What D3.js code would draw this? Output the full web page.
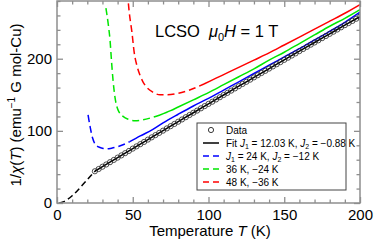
<!DOCTYPE html>
<html><head><meta charset="utf-8">
<script src="https://cdn.jsdelivr.net/npm/d3@7"></script>
<style>
html,body{margin:0;padding:0;background:#fff;}
svg{display:block;font-family:"Liberation Sans",Arial,Helvetica,sans-serif;}
</style></head>
<body><svg id="c" width="374" height="240"></svg>
<script>
// ---------- data ----------
const xTicksMajor = [0, 50, 100, 150, 200];
const yTicksMajor = [0, 100, 200];

const dataT = d3.range(25, 200.01, 2.5);
const dataV = [44.0,47.1,50.3,53.4,56.6,59.7,62.9,66.0,69.1,72.2,75.4,78.5,81.6,84.7,87.9,91.0,94.1,97.2,100.3,103.4,106.5,109.6,112.7,115.8,118.9,122.0,125.1,128.1,131.2,134.3,137.4,140.4,143.5,146.6,149.7,152.7,155.8,158.8,161.9,165.0,168.0,171.0,174.1,177.1,180.2,183.2,186.3,189.3,192.3,195.3,198.4,201.4,204.4,207.4,210.5,213.5,216.5,219.5,222.5,225.5,228.5,231.5,234.5,237.5,240.5,243.5,246.5,249.4,252.4,255.4,258.4];

const fitDashT = [1.5, 4, 7, 10, 13, 16, 19, 22, 25];
const fitDashV = [0, 1.5, 5, 10, 16, 23, 30, 37, 44];
const fitT = [25, 30, 40, 50, 60, 70, 80, 90, 100, 110, 120, 130, 140, 150, 160, 170, 180, 190, 200];
const fitV = [44.0, 50.3, 62.9, 75.4, 87.9, 100.3, 112.7, 125.1, 137.4, 149.7, 161.9, 174.1, 186.3, 198.4, 210.5, 222.5, 234.5, 246.5, 258.4];

const blueDashT = [20.5, 22, 23.5, 25, 27, 30, 33, 36, 40, 44, 48];
const blueDashV = [122, 104, 90, 82, 78, 76, 75, 76, 78, 81, 85];
const blueT = [48, 55, 63, 70, 80, 90, 100, 110, 120, 130, 140, 150, 160, 170, 180, 190, 200];
const blueV = [85, 93, 101.6, 111, 123, 134.5, 145, 156.5, 168, 179.5, 191, 202.5, 214, 226, 238, 250.5, 264.5];

const greenDashT = [32.3, 34, 35, 36, 37, 38.3, 39.6, 41, 43.6, 47, 51.5, 56, 62, 68];
const greenDashV = [270, 245, 226, 196, 170, 146, 133, 126, 120, 116, 114, 115, 118, 122];
const greenT = [68, 75, 80, 90, 100, 110, 120, 130, 140, 150, 160, 170, 180, 190, 200];
const greenV = [122, 128, 133, 143, 153, 164, 175, 186, 198, 209, 221, 233, 245, 256, 268];

const redDashT = [46.5, 47.5, 49.5, 51, 52.8, 55, 57, 59, 63, 68, 72.5, 80, 88, 97];
const redDashV = [292, 268, 236, 208, 190, 176, 167, 161, 154, 150, 150, 152, 157, 165];
const redT = [97, 105, 113, 121, 130, 140, 150, 160, 170, 180, 190, 200];
const redV = [165, 173, 181, 189, 198, 208, 219, 230, 241, 252, 263, 275];

const legendLabels = ["Data", "Fit", "J1", "36 K, \u221224 K", "48 K, \u221236 K"];

// ---------- layout ----------
const W = 374, H = 240;
const m = {l: 57, r: 14, t: 1, b: 37};
const svg = d3.select("#c");
const x = d3.scaleLinear().domain([0, 200]).range([m.l, W - m.r]);
const y = d3.scaleLinear().domain([0, 280]).range([H - m.b, m.t]);
const frameCol = "#8e8e8e";

svg.append("defs").append("clipPath").attr("id", "clip")
  .append("rect").attr("x", m.l).attr("y", m.t).attr("width", W - m.l - m.r).attr("height", H - m.t - m.b);

const plot = svg.append("g").attr("clip-path", "url(#clip)");
const line = d3.line().x(d => x(d[0])).y(d => y(d[1])).curve(d3.curveMonotoneX);
const zipper = (a, b) => a.map((t, i) => [t, b[i]]);

function draw(T, V, color, dash) {
  plot.append("path").datum(zipper(T, V)).attr("d", line)
    .attr("fill", "none").attr("stroke", color).attr("stroke-width", 1.5)
    .attr("stroke-dasharray", dash || null);
}
const dashPat = "7,4";
draw(redDashT, redDashV, "#ff0000", dashPat);
draw(redT, redV, "#ff0000");
draw(greenDashT, greenDashV, "#00e600", dashPat);
draw(greenT, greenV, "#00e600");
draw(blueDashT, blueDashV, "#0000ff", dashPat);
draw(blueT, blueV, "#0000ff");
draw(fitDashT, fitDashV, "#000", "6,3.5");
draw(fitT, fitV, "#000");

plot.append("g").selectAll("circle").data(zipper(dataT, dataV)).join("circle")
  .attr("cx", d => x(d[0])).attr("cy", d => y(d[1])).attr("r", 2.6)
  .attr("fill", "none").attr("stroke", "#222").attr("stroke-width", 0.8);

// ---------- axes ----------
function styleAxis(g) {
  g.select(".domain").remove();
  g.selectAll(".tick line").attr("stroke", frameCol).attr("stroke-width", 1.3);
  g.selectAll(".tick text").attr("fill", "#000").attr("font-size", 15);
}
const xMinor = d3.range(0, 201, 10).filter(v => v % 50);
const yMinor = d3.range(0, 281, 20).filter(v => v % 100);

// bottom
svg.append("g").attr("transform", `translate(0,${H - m.b})`)
  .call(d3.axisBottom(x).tickValues(xTicksMajor).tickSizeInner(-6).tickSizeOuter(0).tickPadding(6).tickFormat(d3.format("d")))
  .call(styleAxis);
svg.append("g").attr("transform", `translate(0,${H - m.b})`)
  .call(d3.axisBottom(x).tickValues(xMinor).tickSizeInner(-3.5).tickSizeOuter(0).tickFormat(""))
  .call(styleAxis);
// top
svg.append("g").attr("transform", `translate(0,${m.t})`)
  .call(d3.axisTop(x).tickValues(xTicksMajor).tickSizeInner(-6).tickSizeOuter(0).tickFormat(""))
  .call(styleAxis);
svg.append("g").attr("transform", `translate(0,${m.t})`)
  .call(d3.axisTop(x).tickValues(xMinor).tickSizeInner(-3.5).tickSizeOuter(0).tickFormat(""))
  .call(styleAxis);
// left
svg.append("g").attr("transform", `translate(${m.l},0)`)
  .call(d3.axisLeft(y).tickValues(yTicksMajor).tickSizeInner(-6).tickSizeOuter(0).tickPadding(5).tickFormat(d3.format("d")))
  .call(styleAxis);
svg.append("g").attr("transform", `translate(${m.l},0)`)
  .call(d3.axisLeft(y).tickValues(yMinor).tickSizeInner(-3.5).tickSizeOuter(0).tickFormat(""))
  .call(styleAxis);
// right
svg.append("g").attr("transform", `translate(${W - m.r},0)`)
  .call(d3.axisRight(y).tickValues(yTicksMajor).tickSizeInner(-6).tickSizeOuter(0).tickFormat(""))
  .call(styleAxis);
svg.append("g").attr("transform", `translate(${W - m.r},0)`)
  .call(d3.axisRight(y).tickValues(yMinor).tickSizeInner(-3.5).tickSizeOuter(0).tickFormat(""))
  .call(styleAxis);

// frame
svg.append("rect").attr("x", m.l).attr("y", m.t).attr("width", W - m.l - m.r).attr("height", H - m.t - m.b)
  .attr("fill", "none").attr("stroke", frameCol).attr("stroke-width", 1.5);

// ---------- labels ----------
const xl = svg.append("text").attr("x", 210).attr("y", 236).attr("text-anchor", "middle").attr("font-size", 15).attr("fill", "#000");
xl.append("tspan").text("Temperature ");
xl.append("tspan").attr("font-style", "italic").text("T");
xl.append("tspan").text(" (K)");

const yl = svg.append("text").attr("transform", "translate(21,105) rotate(-90)").attr("text-anchor", "middle").attr("font-size", 15).attr("fill", "#000");
yl.append("tspan").text("1/");
yl.append("tspan").attr("font-style", "italic").text("\u03c7");
yl.append("tspan").text("(");
yl.append("tspan").attr("font-style", "italic").text("T");
yl.append("tspan").text(") (emu");
yl.append("tspan").attr("font-size", 10).attr("dy", -6).text("\u22121");
yl.append("tspan").attr("dy", 6).text(" G mol-Cu)");

const tt = svg.append("text").attr("x", 155).attr("y", 37).attr("font-size", 16.5).attr("fill", "#000");
tt.append("tspan").text("LCSO");
tt.append("tspan").attr("dx", 9).attr("font-style", "italic").text("\u03bc");
tt.append("tspan").attr("font-size", 11).attr("dy", 4).text("0");
tt.append("tspan").attr("dy", -4).attr("font-style", "italic").text("H");
tt.append("tspan").text(" = 1 T");

// ---------- legend ----------
const lg = svg.append("g");
lg.append("rect").attr("x", 197).attr("y", 123).attr("width", 149).attr("height", 67)
  .attr("fill", "#fff").attr("stroke", "#444").attr("stroke-width", 1);
const rowY = i => 130 + i * 13;
const fs = 10;
// Data row
lg.append("circle").attr("cx", 211).attr("cy", rowY(0)).attr("r", 2.6).attr("fill", "none").attr("stroke", "#222").attr("stroke-width", 0.9);
const legendColors = [null, "#000", "#0000ff", "#00e600", "#ff0000"];
legendColors.forEach((c, i) => {
  if (!c) return;
  lg.append("line").attr("x1", 203).attr("x2", 219).attr("y1", rowY(i)).attr("y2", rowY(i))
    .attr("stroke", c).attr("stroke-width", 1.5).attr("stroke-dasharray", i === 1 ? null : "6,4");
});
function ltext(i) {
  return lg.append("text").attr("x", 226).attr("y", rowY(i) + 3.6).attr("font-size", fs).attr("fill", "#000");
}
ltext(0).text(legendLabels[0]);
function jPart(t, sub, val) {
  t.append("tspan").attr("font-style", "italic").text("J");
  t.append("tspan").attr("font-size", 7).attr("dy", 2.5).text(sub);
  t.append("tspan").attr("dy", -2.5).text(val);
}
const t1 = ltext(1);
t1.append("tspan").text(legendLabels[1] + " ");
jPart(t1, "1", " = 12.03 K, ");
jPart(t1, "2", " = \u22120.88 K");
const t2 = ltext(2);
jPart(t2, "1", " = 24 K, ");
jPart(t2, "2", " = \u221212 K");
ltext(3).text(legendLabels[3]);
ltext(4).text(legendLabels[4]);
</script></body></html>
